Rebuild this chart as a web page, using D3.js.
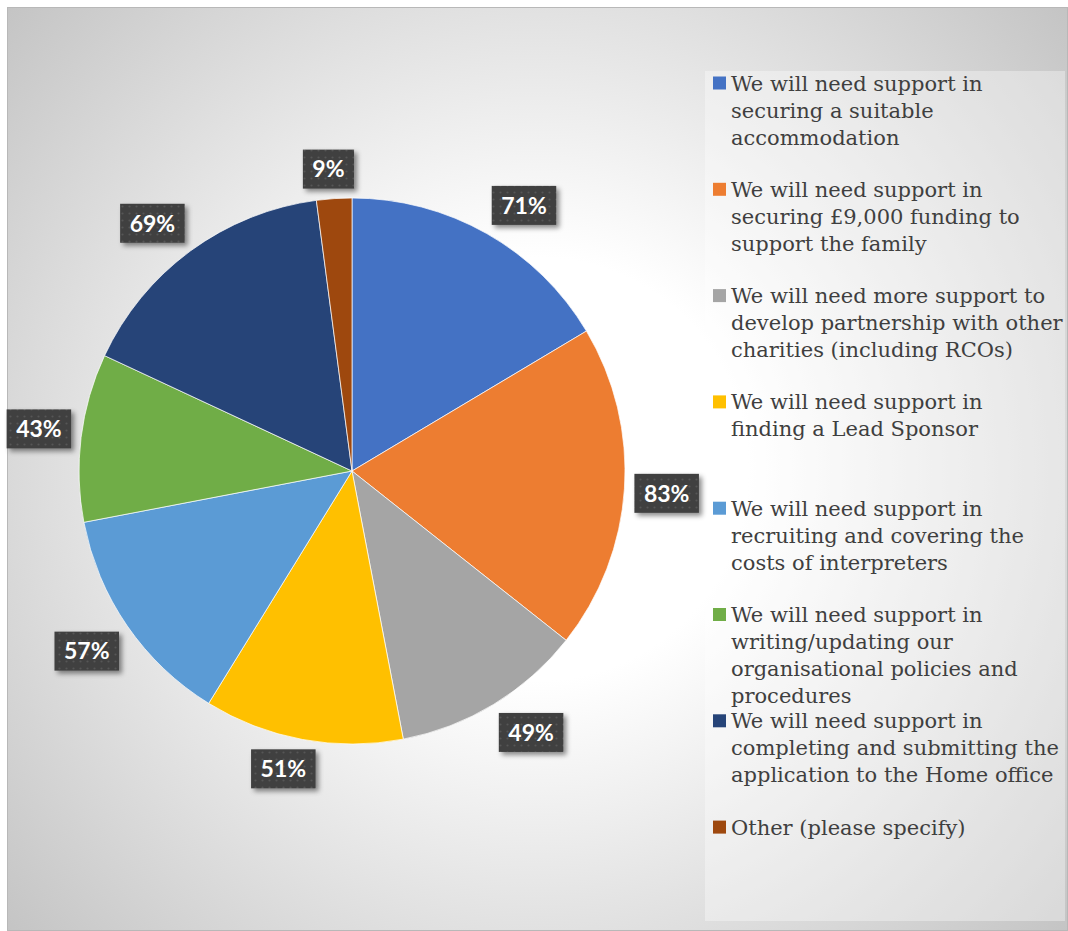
<!DOCTYPE html>
<html>
<head>
<meta charset="utf-8">
<script src="https://cdn.jsdelivr.net/npm/d3@7"></script>
<style>
  html, body { margin: 0; padding: 0; background: #ffffff; }
  svg { display: block; }
</style>
</head>
<body>
<svg id="chart" width="1068" height="931"></svg>
<script>
// ---- data ----
const categories = [
  "We will need support in securing a suitable accommodation",
  "We will need support in securing £9,000 funding to support the family",
  "We will need more support to develop partnership with other charities (including RCOs)",
  "We will need support in finding a Lead Sponsor",
  "We will need support in recruiting and covering the costs of interpreters",
  "We will need support in writing/updating our organisational policies and procedures",
  "We will need support in completing and submitting the application to the Home office",
  "Other (please specify)"
];
const values = [71, 83, 49, 51, 57, 43, 69, 9];
const valueLabels = ["71%", "83%", "49%", "51%", "57%", "43%", "69%", "9%"];
const legendLines = [
  ["We will need support in", "securing a suitable", "accommodation"],
  ["We will need support in", "securing £9,000 funding to", "support the family"],
  ["We will need more support to", "develop partnership with other", "charities (including RCOs)"],
  ["We will need support in", "finding a Lead Sponsor"],
  ["We will need support in", "recruiting and covering the", "costs of interpreters"],
  ["We will need support in", "writing/updating our", "organisational policies and", "procedures"],
  ["We will need support in", "completing and submitting the", "application to the Home office"],
  ["Other (please specify)"]
];
const colors = ["#4472C4", "#ED7D31", "#A5A5A5", "#FFC000", "#5B9BD5", "#70AD47", "#264478", "#9E480E"];

// ---- layout ----
const svg = d3.select("#chart");
const defs = svg.append("defs");

const bg = defs.append("radialGradient").attr("id", "bgGrad")
  .attr("gradientUnits", "userSpaceOnUse")
  .attr("cx", 537).attr("cy", 469).attr("r", 705);
bg.append("stop").attr("offset", "0").attr("stop-color", "#ffffff");
bg.append("stop").attr("offset", "0.3").attr("stop-color", "#ffffff");
bg.append("stop").attr("offset", "1").attr("stop-color", "#c4c4c4");

const pat = defs.append("pattern").attr("id", "dots")
  .attr("patternUnits", "userSpaceOnUse").attr("width", 7).attr("height", 7);
pat.append("rect").attr("width", 7).attr("height", 7).attr("fill", "#3f3f3f");
pat.append("circle").attr("cx", 3.5).attr("cy", 3.5).attr("r", 1.1).attr("fill", "#575757");

const sh = defs.append("filter").attr("id", "shadow")
  .attr("x", "-30%").attr("y", "-30%").attr("width", "170%").attr("height", "170%");
sh.append("feDropShadow").attr("dx", 3).attr("dy", 3).attr("stdDeviation", 2.5)
  .attr("flood-color", "#000").attr("flood-opacity", 0.45);

// background
svg.append("rect").attr("x", 7.5).attr("y", 7.5).attr("width", 1060).attr("height", 923)
  .attr("fill", "url(#bgGrad)").attr("stroke", "#b8b8b8").attr("stroke-width", 1);

// legend box
svg.append("rect").attr("x", 705).attr("y", 71).attr("width", 360).attr("height", 850)
  .attr("fill", "#ffffff").attr("fill-opacity", 0.35);

// pie
const cx = 352, cy = 471, R = 273;
const pie = d3.pie().sort(null).value(d => d);
const arcs = pie(values);
const arc = d3.arc().innerRadius(0).outerRadius(R);

const g = svg.append("g").attr("transform", `translate(${cx},${cy})`);
g.selectAll("path.slice").data(arcs).enter().append("path")
  .attr("class", "slice")
  .attr("d", arc)
  .attr("fill", (d, i) => colors[i])
  .attr("stroke", "#ffffff").attr("stroke-width", 1).attr("stroke-opacity", 0.7);

// data labels (outside end)
const clamp = v => Math.max(-1, Math.min(1, v));
const lblG = svg.append("g");
arcs.forEach((d, i) => {
  const th = (d.startAngle + d.endAngle) / 2;
  const ax = cx + (R + 10) * Math.sin(th);
  const ay = cy - (R + 10) * Math.cos(th);
  const grp = lblG.append("g");
  const rect = grp.append("rect");
  const txt = grp.append("text")
    .attr("text-anchor", "middle")
    .attr("dy", "0.36em")
    .attr("font-family", "Lato, 'Open Sans', sans-serif")
    .attr("font-weight", "bold")
    .attr("font-size", 23)
    .attr("fill", "#ffffff")
    .text(valueLabels[i]);
  const tw = txt.node().getComputedTextLength();
  const w = tw + 19, h = 39;
  const mx = ax + (w / 2) * clamp(3 * Math.sin(th));
  const my = ay - (h / 2) * clamp(3 * Math.cos(th));
  rect.attr("x", mx - w / 2).attr("y", my - h / 2).attr("width", w).attr("height", h)
    .attr("fill", "url(#dots)").attr("filter", "url(#shadow)");
  txt.attr("x", mx).attr("y", my);
});

// legend
const legY0 = 83, slot = 106.3, lineH = 27;
const leg = svg.append("g");
legendLines.forEach((lines, i) => {
  const y = legY0 + i * slot;
  leg.append("rect").attr("x", 713).attr("y", y - 6.5).attr("width", 13).attr("height", 13)
    .attr("fill", colors[i]);
  const t = leg.append("text")
    .attr("font-family", "'DejaVu Serif', 'Liberation Serif', serif")
    .attr("font-size", 21)
    .attr("fill", "#3f3f3f");
  lines.forEach((ln, j) => {
    t.append("tspan").attr("x", 731).attr("y", y + j * lineH).attr("dy", "0.36em").text(ln);
  });
});
</script>
</body>
</html>
